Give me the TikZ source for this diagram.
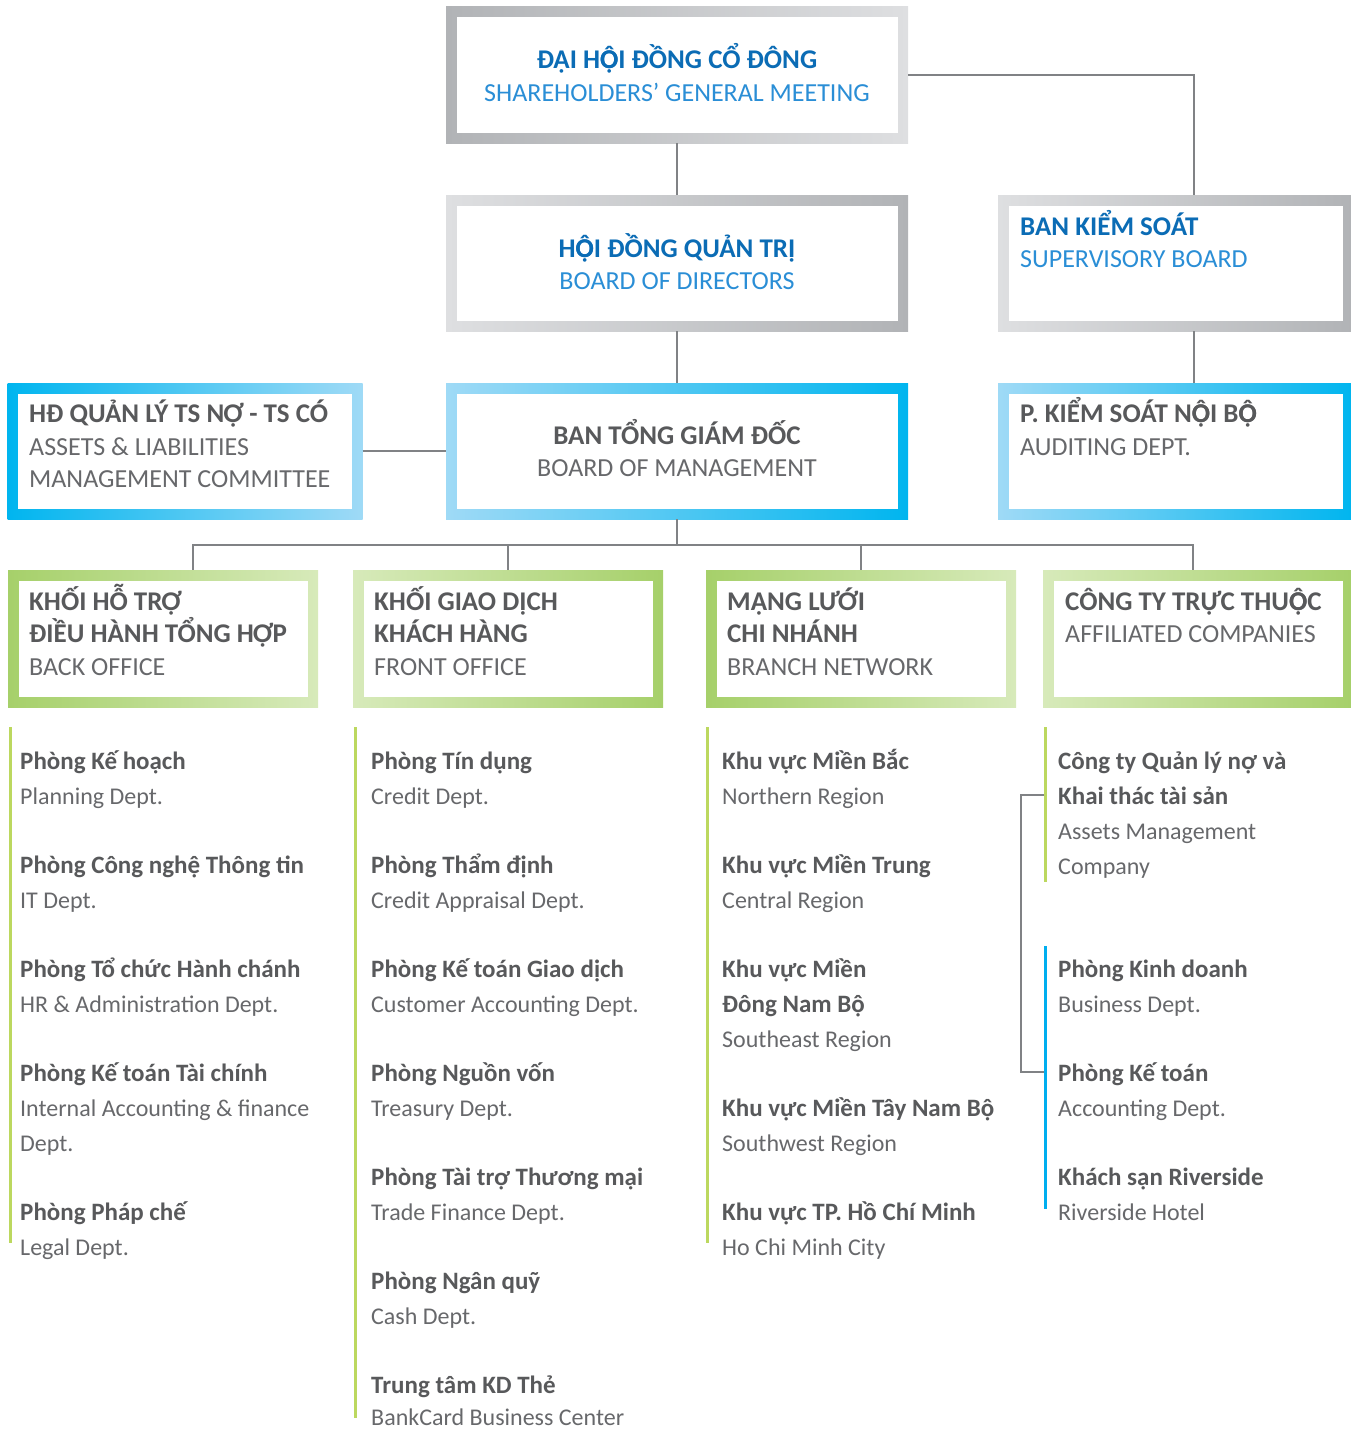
\documentclass[tikz,border=0pt]{standalone}
\usepackage{fontspec}
\setmainfont{Carlito}
\usetikzlibrary{calc}
\definecolor{linegray}{HTML}{808285}
\definecolor{txtdark}{HTML}{58595B}
\definecolor{txtlight}{HTML}{67686B}
\definecolor{bluebold}{HTML}{0B6CB5}
\definecolor{bluelight}{HTML}{2A8ED6}
\definecolor{gray1}{HTML}{B1B3B6}
\definecolor{gray2}{HTML}{DEDFE1}
\definecolor{cyan1}{HTML}{00B5EF}
\definecolor{cyan2}{HTML}{9FDAF6}
\definecolor{green1}{HTML}{A6D06A}
\definecolor{green2}{HTML}{D7EABA}
\definecolor{listgreen}{HTML}{BCD85F}
\definecolor{listblue}{HTML}{00AEEF}
\newcommand\Ocd{\rlap{\symbol{"1ECC}}\symbol{"00D4}}
\begin{document}
\begin{tikzpicture}[x=1pt,y=-1pt,
  orgbox/.style 2 args={rectangle, inner sep=0pt,
    path picture={
      \shade[left color=#1,right color=#2] (path picture bounding box.south west) rectangle (path picture bounding box.north east);
      \fill[white] ([shift={(10.5pt,10.5pt)}]path picture bounding box.south west) rectangle ([shift={(-10.5pt,-10.5pt)}]path picture bounding box.north east);
    }},
  conn/.style={draw=linegray, line width=2pt},
  bx/.style={font=\fontsize{27}{30}\selectfont\bfseries, text=txtdark, inner sep=0pt},
  lx/.style={font=\fontsize{26}{30}\selectfont, text=txtlight, inner sep=0pt},
  bbx/.style={bx, text=bluebold},
  blx/.style={lx, text=bluelight},
  bi/.style={font=\fontsize{25}{30}\selectfont\bfseries, text=txtdark, inner sep=0pt, anchor=base west},
  li/.style={font=\fontsize{24}{30}\selectfont, text=txtlight, inner sep=0pt, anchor=base west},
  gline/.style={draw=listgreen, line width=3pt},
  bline/.style={draw=listblue, line width=3pt}
]
\useasboundingbox (0,0) rectangle (1351,1429);

% ---------- boxes ----------
\node[orgbox={gray1}{gray2}, minimum width=462pt, minimum height=136pt] (sgm) at (677,75) {};
\node[orgbox={gray2}{gray1}, minimum width=462pt, minimum height=136pt] (bod) at (677,263) {};
\node[orgbox={gray2}{gray1}, minimum width=355pt, minimum height=136pt] (sup) at (1175.5,263) {};
\node[orgbox={cyan1}{cyan2}, minimum width=355pt, minimum height=136pt] (alco) at (185,451) {};
\node[orgbox={cyan2}{cyan1}, minimum width=462pt, minimum height=136pt] (bom) at (677,451) {};
\node[orgbox={cyan2}{cyan1}, minimum width=355pt, minimum height=136pt] (aud) at (1175.5,451) {};
\node[orgbox={green1}{green2}, minimum width=310pt, minimum height=137pt] (bo) at (163,638.5) {};
\node[orgbox={green2}{green1}, minimum width=310pt, minimum height=137pt] (fo) at (508,638.5) {};
\node[orgbox={green1}{green2}, minimum width=310pt, minimum height=137pt] (bn) at (861,638.5) {};
\node[orgbox={green2}{green1}, minimum width=310pt, minimum height=137pt] (aff) at (1198,638.5) {};

% ---------- connectors ----------
\coordinate (bus) at (677,545);
\draw[conn] (sgm.east) -| ([xshift=18pt]sup.north);
\draw[conn] (sgm.south) -- (bod.north);
\draw[conn] (bod.south) -- (bom.north);
\draw[conn] ([xshift=18pt]sup.south) -- ([xshift=18pt]aud.north);
\draw[conn] (alco.east) -- (bom.west);
\draw[conn] (bom.south) -- (bus);
\draw[conn] ([xshift=30pt]bo.north) -- ([xshift=30pt]bo.north |- bus) -- ([xshift=-5pt]aff.north |- bus) -- ([xshift=-5pt]aff.north);
\draw[conn] (fo.north) -- (fo.north |- bus);
\draw[conn] (bn.north) -- (bn.north |- bus);

% ---------- box texts ----------
\node[bbx, anchor=base] (sgm-a) at (677,69) {ĐẠI H\Ocd I ĐỒNG CỔ ĐÔNG};
\node[blx, anchor=base] (sgm-b) at (677,101) {SHAREHOLDERS’ GENERAL MEETING};
\node[bbx, anchor=base] (bod-a) at (677,257) {H\Ocd I ĐỒNG QUẢN TRỊ};
\node[blx, anchor=base] (bod-b) at (677,289) {BOARD OF DIRECTORS};
\node[bbx, anchor=base west] (sup-a) at (1020,235) {BAN KIỂM SOÁT};
\node[blx, anchor=base west] (sup-b) at (1020,267) {SUPERVISORY BOARD};
\node[bx, anchor=base west] (alco-a) at (29,422) {HĐ QUẢN LÝ TS NỢ - TS CÓ};
\node[lx, anchor=base west] (alco-b) at (29,455) {ASSETS \& LIABILITIES};
\node[lx, anchor=base west] (alco-c) at (29,487) {MANAGEMENT COMMITTEE};
\node[bx, anchor=base] (bom-a) at (677,444) {BAN TỔNG GIÁM ĐỐC};
\node[lx, anchor=base] (bom-b) at (677,476) {BOARD OF MANAGEMENT};
\node[bx, anchor=base west] (aud-a) at (1020,422) {P. KIỂM SOÁT N\Ocd I B\Ocd};
\node[lx, anchor=base west] (aud-b) at (1020,455) {AUDITING DEPT.};

\node[bx, anchor=base west] (bo-a) at (29,610) {KHỐI HỖ TRỢ};
\node[bx, anchor=base west] (bo-b) at (29,642) {ĐIỀU HÀNH TỔNG HỢP};
\node[lx, anchor=base west] (bo-c) at (29,675) {BACK OFFICE};
\node[bx, anchor=base west] (fo-a) at (374,610) {KHỐI GIAO DỊCH};
\node[bx, anchor=base west] (fo-b) at (374,642) {KHÁCH HÀNG};
\node[lx, anchor=base west] (fo-c) at (374,675) {FRONT OFFICE};
\node[bx, anchor=base west] (bn-a) at (727,610) {MẠNG LƯỚI};
\node[bx, anchor=base west] (bn-b) at (727,642) {CHI NHÁNH};
\node[lx, anchor=base west] (bn-c) at (727,675) {BRANCH NETWORK};
\node[bx, anchor=base west] (aff-a) at (1065,610) {CÔNG TY TRỰC THU\Ocd C};
\node[lx, anchor=base west] (aff-b) at (1065,642) {AFFILIATED COMPANIES};

% ---------- list side lines ----------
\coordinate (g1a) at (10,727);   \coordinate (g1b) at (10,1243);
\coordinate (g2a) at (355,727);  \coordinate (g2b) at (355,1418);
\coordinate (g3a) at (707,727);  \coordinate (g3b) at (707,1243);
\coordinate (g4a) at (1045,727); \coordinate (g4b) at (1045,882);
\coordinate (b4a) at (1045,946); \coordinate (b4b) at (1045,1209);
\draw[gline] (g1a) -- (g1b);
\draw[gline] (g2a) -- (g2b);
\draw[gline] (g3a) -- (g3b);
\draw[gline] (g4a) -- (g4b);
\draw[bline] (b4a) -- (b4b);
\coordinate (k1) at (1044,795);
\coordinate (k2) at (1044,1072);
\draw[conn] (k1) -- (1021,795) -- (1021,1072) -- (k2);

% ---------- back office list ----------
\node[bi] (p1a) at (20,769) {Phòng Kế hoạch};
\node[li] (p1b) at (20,804) {Planning Dept.};
\node[bi] (p2a) at (20,873) {Phòng Công nghệ Thông tin};
\node[li] (p2b) at (20,908) {IT Dept.};
\node[bi] (p3a) at (20,977) {Phòng Tổ chức Hành chánh};
\node[li] (p3b) at (20,1012) {HR \& Administration Dept.};
\node[bi] (p4a) at (20,1081) {Phòng Kế toán Tài chính};
\node[li] (p4b) at (20,1116) {Internal Accounting \& finance};
\node[li] (p4c) at (20,1151) {Dept.};
\node[bi] (p5a) at (20,1220) {Phòng Pháp chế};
\node[li] (p5b) at (20,1255) {Legal Dept.};

% ---------- front office list ----------
\node[bi] (f1a) at (371,769) {Phòng Tín dụng};
\node[li] (f1b) at (371,804) {Credit Dept.};
\node[bi] (f2a) at (371,873) {Phòng Thẩm định};
\node[li] (f2b) at (371,908) {Credit Appraisal Dept.};
\node[bi] (f3a) at (371,977) {Phòng Kế toán Giao dịch};
\node[li] (f3b) at (371,1012) {Customer Accounting Dept.};
\node[bi] (f4a) at (371,1081) {Phòng Nguồn vốn};
\node[li] (f4b) at (371,1116) {Treasury Dept.};
\node[bi] (f5a) at (371,1185) {Phòng Tài trợ Thương mại};
\node[li] (f5b) at (371,1220) {Trade Finance Dept.};
\node[bi] (f6a) at (371,1289) {Phòng Ngân quỹ};
\node[li] (f6b) at (371,1324) {Cash Dept.};
\node[bi] (f7a) at (371,1393) {Trung tâm KD Thẻ};
\node[li] (f7b) at (371,1425) {BankCard Business Center};

% ---------- branch network list ----------
\node[bi] (n1a) at (722,769) {Khu vực Miền Bắc};
\node[li] (n1b) at (722,804) {Northern Region};
\node[bi] (n2a) at (722,873) {Khu vực Miền Trung};
\node[li] (n2b) at (722,908) {Central Region};
\node[bi] (n3a) at (722,977) {Khu vực Miền};
\node[bi] (n3b) at (722,1012) {Đông Nam Bộ};
\node[li] (n3c) at (722,1047) {Southeast Region};
\node[bi] (n4a) at (722,1116) {Khu vực Miền Tây Nam Bộ};
\node[li] (n4b) at (722,1151) {Southwest Region};
\node[bi] (n5a) at (722,1220) {Khu vực TP. Hồ Chí Minh};
\node[li] (n5b) at (722,1255) {Ho Chi Minh City};

% ---------- affiliated list ----------
\node[bi] (c1a) at (1058,769) {Công ty Quản lý nợ và};
\node[bi] (c1b) at (1058,804) {Khai thác tài sản};
\node[li] (c1c) at (1058,839) {Assets Management};
\node[li] (c1d) at (1058,874) {Company};
\node[bi] (c2a) at (1058,977) {Phòng Kinh doanh};
\node[li] (c2b) at (1058,1012) {Business Dept.};
\node[bi] (c3a) at (1058,1081) {Phòng Kế toán};
\node[li] (c3b) at (1058,1116) {Accounting Dept.};
\node[bi] (c4a) at (1058,1185) {Khách sạn Riverside};
\node[li] (c4b) at (1058,1220) {Riverside Hotel};
\end{tikzpicture}
\end{document}
